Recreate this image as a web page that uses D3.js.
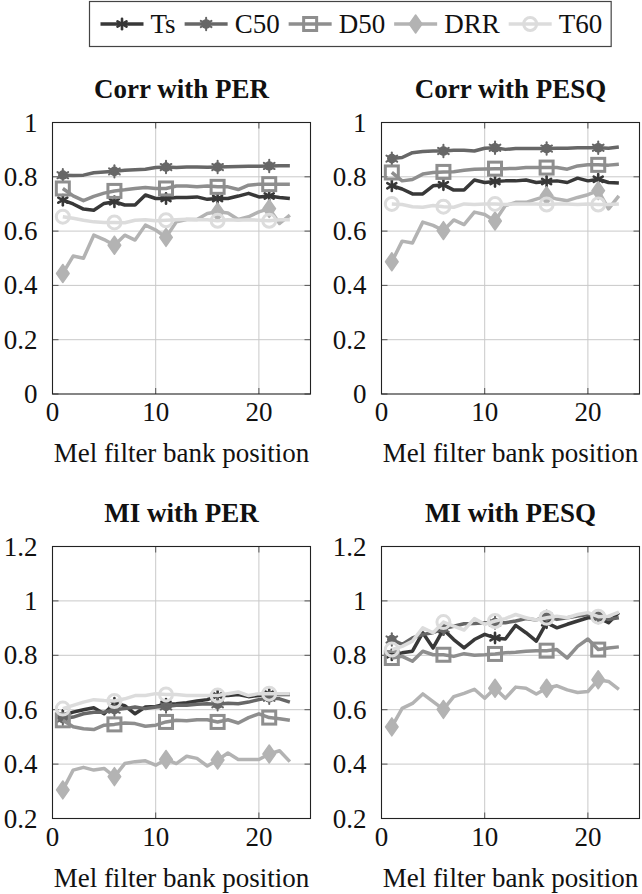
<!DOCTYPE html>
<html>
<head>
<meta charset="utf-8">
<script src="https://cdn.jsdelivr.net/npm/d3@7"></script>
<style>
  html, body { margin: 0; padding: 0; background: #fff; }
  svg { display: block; }
</style>
</head>
<body>
<script>
// Mel filter bank positions (x values) and axis ticks
const positions = d3.range(1, 24);
const seriesNames = ["Ts", "C50", "D50", "DRR", "T60"];
const xTicks = [0, 10, 20];
const yTicksCorr = [0, 0.2, 0.4, 0.6, 0.8, 1];
const yTicksMI = [0.2, 0.4, 0.6, 0.8, 1, 1.2];
const panelTitles = ["Corr with PER", "Corr with PESQ", "MI with PER", "MI with PESQ"];
const xAxisTitle = "Mel filter bank position";

// Correlation with PER
const corrPerTs  = [0.714,0.700,0.681,0.677,0.702,0.708,0.696,0.696,0.733,0.720,0.720,0.724,0.724,0.726,0.717,0.720,0.720,0.729,0.739,0.726,0.729,0.724,0.720];
const corrPerC50 = [0.806,0.805,0.806,0.815,0.818,0.820,0.824,0.826,0.828,0.834,0.836,0.834,0.836,0.836,0.835,0.836,0.837,0.838,0.839,0.839,0.840,0.841,0.841];
const corrPerD50 = [0.757,0.730,0.712,0.728,0.740,0.748,0.752,0.757,0.761,0.757,0.757,0.766,0.766,0.763,0.766,0.763,0.763,0.753,0.769,0.773,0.773,0.773,0.773];
const corrPerDRR = [0.444,0.508,0.500,0.585,0.569,0.548,0.585,0.567,0.622,0.604,0.577,0.634,0.643,0.643,0.665,0.671,0.667,0.643,0.653,0.671,0.683,0.628,0.659];
const corrPerT60 = [0.653,0.647,0.640,0.634,0.632,0.632,0.631,0.640,0.642,0.638,0.640,0.642,0.644,0.642,0.642,0.638,0.642,0.640,0.642,0.640,0.638,0.642,0.642];

// Correlation with PESQ
const corrPesqTs  = [0.767,0.755,0.737,0.737,0.767,0.771,0.751,0.751,0.788,0.779,0.783,0.785,0.785,0.788,0.779,0.783,0.785,0.779,0.795,0.785,0.791,0.779,0.777];
const corrPesqC50 = [0.867,0.871,0.889,0.893,0.895,0.895,0.898,0.898,0.895,0.905,0.907,0.901,0.904,0.904,0.904,0.904,0.905,0.905,0.907,0.907,0.907,0.905,0.910];
const corrPesqD50 = [0.816,0.785,0.790,0.810,0.816,0.818,0.819,0.824,0.828,0.829,0.830,0.830,0.831,0.834,0.834,0.834,0.834,0.828,0.840,0.844,0.844,0.843,0.846];
const corrPesqDRR = [0.487,0.563,0.556,0.633,0.621,0.602,0.641,0.624,0.670,0.661,0.637,0.694,0.706,0.706,0.718,0.730,0.718,0.712,0.724,0.734,0.749,0.682,0.730];
const corrPesqT60 = [0.700,0.698,0.690,0.688,0.694,0.690,0.688,0.700,0.698,0.700,0.700,0.698,0.700,0.700,0.700,0.698,0.700,0.700,0.698,0.700,0.698,0.698,0.700];

// Mutual information with PER
const miPerTs  = [0.579,0.591,0.600,0.607,0.585,0.624,0.615,0.585,0.610,0.612,0.620,0.622,0.626,0.632,0.637,0.652,0.652,0.656,0.648,0.652,0.659,0.656,0.656];
const miPerC50 = [0.567,0.573,0.585,0.591,0.591,0.600,0.604,0.610,0.604,0.610,0.612,0.616,0.616,0.620,0.622,0.620,0.624,0.622,0.628,0.637,0.644,0.640,0.628];
const miPerD50 = [0.561,0.537,0.530,0.527,0.543,0.546,0.551,0.549,0.539,0.543,0.555,0.561,0.559,0.563,0.563,0.555,0.563,0.551,0.571,0.585,0.571,0.567,0.561];
const miPerDRR = [0.305,0.378,0.388,0.378,0.384,0.354,0.402,0.409,0.412,0.396,0.417,0.402,0.429,0.421,0.393,0.415,0.441,0.417,0.417,0.417,0.437,0.449,0.409];
const miPerT60 = [0.604,0.616,0.628,0.637,0.634,0.632,0.640,0.652,0.652,0.659,0.656,0.656,0.652,0.652,0.652,0.652,0.659,0.665,0.652,0.659,0.659,0.659,0.659];

// Mutual information with PESQ
const miPesqTs  = [0.802,0.809,0.815,0.883,0.827,0.895,0.858,0.827,0.858,0.877,0.864,0.860,0.910,0.883,0.852,0.920,0.901,0.914,0.926,0.938,0.938,0.920,0.957];
const miPesqC50 = [0.858,0.840,0.864,0.877,0.883,0.898,0.907,0.916,0.917,0.920,0.920,0.920,0.926,0.935,0.930,0.942,0.932,0.938,0.944,0.950,0.944,0.932,0.938];
const miPesqD50 = [0.790,0.796,0.778,0.815,0.802,0.802,0.796,0.806,0.800,0.802,0.805,0.809,0.811,0.815,0.817,0.817,0.821,0.790,0.833,0.860,0.821,0.827,0.831];
const miPesqDRR = [0.537,0.605,0.623,0.658,0.630,0.601,0.648,0.660,0.675,0.642,0.679,0.642,0.683,0.679,0.658,0.679,0.688,0.673,0.663,0.667,0.710,0.704,0.675];
const miPesqT60 = [0.821,0.833,0.852,0.901,0.883,0.922,0.907,0.893,0.935,0.914,0.926,0.935,0.950,0.938,0.930,0.938,0.944,0.938,0.950,0.957,0.942,0.944,0.959];

// Drawing styles per series
const seriesStyle = {
  Ts:  { color: "#383838", marker: "asterisk" },
  C50: { color: "#676767", marker: "dotstar" },
  D50: { color: "#8e8e8e", marker: "square" },
  DRR: { color: "#b3b3b3", marker: "diamond" },
  T60: { color: "#dcdcdc", marker: "circle" }
};

const panels = [
  { title: panelTitles[0], left: 52.5,  right: 310.5, top: 122.5, bottom: 394,   yDomain: [0, 1],     yTicks: yTicksCorr,
    series: [corrPerTs, corrPerC50, corrPerD50, corrPerDRR, corrPerT60] },
  { title: panelTitles[1], left: 381.5, right: 639.5, top: 122.5, bottom: 394,   yDomain: [0, 1],     yTicks: yTicksCorr,
    series: [corrPesqTs, corrPesqC50, corrPesqD50, corrPesqDRR, corrPesqT60] },
  { title: panelTitles[2], left: 52.5,  right: 310.5, top: 546.5, bottom: 818.5, yDomain: [0.2, 1.2], yTicks: yTicksMI,
    series: [miPerTs, miPerC50, miPerD50, miPerDRR, miPerT60] },
  { title: panelTitles[3], left: 381.5, right: 639.5, top: 546.5, bottom: 818.5, yDomain: [0.2, 1.2], yTicks: yTicksMI,
    series: [miPesqTs, miPesqC50, miPesqD50, miPesqDRR, miPesqT60] }
];

const FONT = "'Liberation Serif', 'DejaVu Serif', serif";
const FS = 27;
const W = 642, H = 894;

const svg = d3.select("body").append("svg")
  .attr("width", W).attr("height", H)
  .attr("viewBox", `0 0 ${W} ${H}`);

// Marker symbols drawn at (0,0)
function drawMarker(g, type, color) {
  if (type === "asterisk") {
    const r = 5.2;
    for (let a = 0; a < 3; a++) {
      const ang = Math.PI / 2 + a * Math.PI / 3;
      g.append("line")
        .attr("x1", -r * Math.cos(ang)).attr("y1", -r * Math.sin(ang))
        .attr("x2", r * Math.cos(ang)).attr("y2", r * Math.sin(ang))
        .attr("stroke", color).attr("stroke-width", 2.6).attr("stroke-linecap", "round");
    }
  } else if (type === "dotstar") {
    g.append("circle").attr("r", 4.8).attr("fill", color);
    const r = 6.2;
    for (let a = 0; a < 3; a++) {
      const ang = Math.PI / 2 + a * Math.PI / 3;
      g.append("line")
        .attr("x1", -r * Math.cos(ang)).attr("y1", -r * Math.sin(ang))
        .attr("x2", r * Math.cos(ang)).attr("y2", r * Math.sin(ang))
        .attr("stroke", color).attr("stroke-width", 2).attr("stroke-linecap", "round");
    }
  } else if (type === "square") {
    g.append("rect").attr("x", -6.5).attr("y", -6.5).attr("width", 13).attr("height", 13)
      .attr("fill", "none").attr("stroke", color).attr("stroke-width", 3);
  } else if (type === "diamond") {
    g.append("path").attr("d", "M0,-9L6.3,0L0,9L-6.3,0Z")
      .attr("fill", color).attr("stroke", color).attr("stroke-width", 1.5).attr("stroke-linejoin", "round");
  } else if (type === "circle") {
    g.append("circle").attr("r", 6.5)
      .attr("fill", "none").attr("stroke", color).attr("stroke-width", 3);
  }
}

const markerIdx = [0, 5, 10, 15, 20];
const fmt = v => String(v);

panels.forEach(p => {
  const x = d3.scaleLinear().domain([0, 25]).range([p.left, p.right]);
  const y = d3.scaleLinear().domain(p.yDomain).range([p.bottom, p.top]);
  const g = svg.append("g");

  // grid
  g.append("g").selectAll("line").data(xTicks.filter(t => t > 0)).join("line")
    .attr("x1", d => x(d)).attr("x2", d => x(d)).attr("y1", p.top).attr("y2", p.bottom)
    .attr("stroke", "#c9c9c9").attr("stroke-width", 1);
  g.append("g").selectAll("line").data(p.yTicks.slice(1, -1)).join("line")
    .attr("x1", p.left).attr("x2", p.right).attr("y1", d => y(d)).attr("y2", d => y(d))
    .attr("stroke", "#c9c9c9").attr("stroke-width", 1);

  // tick marks on all four sides
  const tl = 6;
  const tk = g.append("g").attr("stroke", "#555").attr("stroke-width", 1);
  p.yTicks.forEach(t => {
    tk.append("line").attr("x1", p.left).attr("x2", p.left + tl).attr("y1", y(t)).attr("y2", y(t));
    tk.append("line").attr("x1", p.right).attr("x2", p.right - tl).attr("y1", y(t)).attr("y2", y(t));
  });
  xTicks.forEach(t => {
    tk.append("line").attr("x1", x(t)).attr("x2", x(t)).attr("y1", p.bottom).attr("y2", p.bottom - tl);
    tk.append("line").attr("x1", x(t)).attr("x2", x(t)).attr("y1", p.top).attr("y2", p.top + tl);
  });

  // series lines and markers
  const line = d3.line().x((d, i) => x(positions[i])).y(d => y(d));
  p.series.forEach((vals, si) => {
    const st = seriesStyle[seriesNames[si]];
    g.append("path").datum(vals).attr("d", line)
      .attr("fill", "none").attr("stroke", st.color).attr("stroke-width", 3.5)
      .attr("stroke-linejoin", "round");
    markerIdx.forEach(i => {
      const mg = g.append("g").attr("transform", `translate(${x(positions[i])},${y(vals[i])})`);
      drawMarker(mg, st.marker, st.color);
    });
  });

  // frame
  g.append("rect").attr("x", p.left).attr("y", p.top)
    .attr("width", p.right - p.left).attr("height", p.bottom - p.top)
    .attr("fill", "none").attr("stroke", "#222").attr("stroke-width", 1.1);

  // y tick labels
  g.append("g").selectAll("text").data(p.yTicks).join("text")
    .attr("x", p.left - 15).attr("y", d => y(d) + 9)
    .attr("text-anchor", "end")
    .attr("font-family", FONT).attr("font-size", FS).attr("fill", "#111")
    .text(fmt);

  // x tick labels
  g.append("g").selectAll("text").data(xTicks).join("text")
    .attr("x", d => x(d)).attr("y", p.bottom + 27)
    .attr("text-anchor", "middle")
    .attr("font-family", FONT).attr("font-size", FS).attr("fill", "#111")
    .text(fmt);

  // x axis title
  g.append("text")
    .attr("x", (p.left + p.right) / 2).attr("y", p.bottom + 68)
    .attr("text-anchor", "middle")
    .attr("font-family", FONT).attr("font-size", FS).attr("fill", "#111")
    .text(xAxisTitle);

  // panel title
  g.append("text")
    .attr("x", (p.left + p.right) / 2).attr("y", p.top - 25)
    .attr("text-anchor", "middle")
    .attr("font-family", FONT).attr("font-size", FS).attr("font-weight", "bold").attr("fill", "#111")
    .text(p.title);
});

// legend
const legend = svg.append("g");
const legBox = { x: 89.5, y: 1.5, h: 45 };
let cx = legBox.x + 11;
const ly = legBox.y + legBox.h / 2;
seriesNames.forEach(name => {
  const st = seriesStyle[name];
  legend.append("line").attr("x1", cx).attr("x2", cx + 43).attr("y1", ly).attr("y2", ly)
    .attr("stroke", st.color).attr("stroke-width", 3.5);
  const mg = legend.append("g").attr("transform", `translate(${cx + 21.5},${ly})`);
  drawMarker(mg, st.marker, st.color);
  const t = legend.append("text").attr("x", cx + 50).attr("y", ly + 9)
    .attr("font-family", FONT).attr("font-size", FS).attr("fill", "#111").text(name);
  cx += 50 + t.node().getComputedTextLength() + 9;
});
legend.insert("rect", ":first-child")
  .attr("x", legBox.x).attr("y", legBox.y)
  .attr("width", cx - legBox.x).attr("height", legBox.h)
  .attr("fill", "#fff").attr("stroke", "#444").attr("stroke-width", 1.2);
</script>
</body>
</html>
